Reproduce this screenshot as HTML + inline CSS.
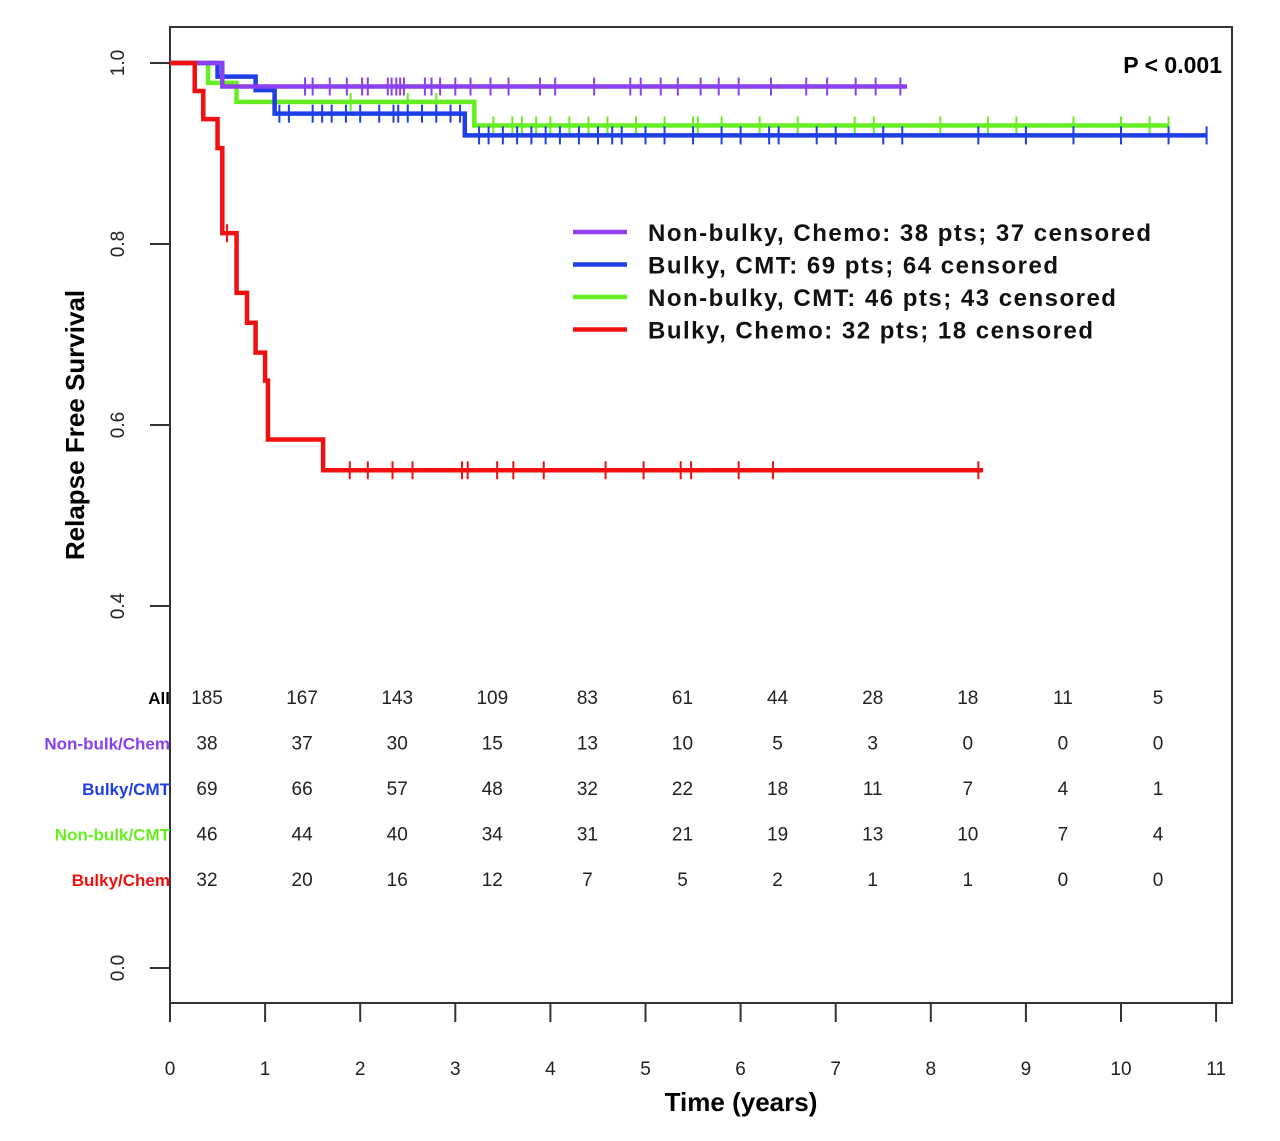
<!DOCTYPE html>
<html><head><meta charset="utf-8"><style>
body{margin:0;background:#fff;}
svg text{font-family:"Liberation Sans",Arial,sans-serif;}
</style></head><body>
<svg id="chart" width="1280" height="1136" xmlns="http://www.w3.org/2000/svg">
<g id="plot"></g>
</svg>
<script>
const xTicks=[0,1,2,3,4,5,6,7,8,9,10,11];
const yTicks=[0.0,0.4,0.6,0.8,1.0];
const seriesNames=["Non-bulky, Chemo: 38 pts; 37 censored","Bulky, CMT: 69 pts; 64 censored","Non-bulky, CMT: 46 pts; 43 censored","Bulky, Chemo: 32 pts; 18 censored"];
const seriesColors=["#8a3ff0","#1f3fe6","#66ee22","#f01010"];
const purpleTimes=[0,0.55,7.75];
const purpleSurv=[1.0,0.974,0.974];
const blueTimes=[0,0.5,0.9,1.1,3.1,10.9];
const blueSurv=[1.0,0.985,0.97,0.944,0.92,0.92];
const greenTimes=[0,0.4,0.7,3.2,10.5];
const greenSurv=[1.0,0.978,0.957,0.931,0.931];
const redTimes=[0,0.26,0.35,0.5,0.55,0.7,0.81,0.9,1.0,1.03,1.61,8.55];
const redSurv=[1.0,0.969,0.938,0.906,0.812,0.746,0.713,0.68,0.649,0.584,0.55,0.55];
const purpleCens=[1.42,1.5,1.68,1.86,2.02,2.08,2.29,2.33,2.38,2.42,2.46,2.68,2.75,2.84,3.0,3.16,3.37,3.56,3.89,4.05,4.46,4.84,4.95,5.16,5.34,5.58,5.77,5.98,6.32,6.69,6.91,7.21,7.42,7.68];
const blueCens=[1.15,1.25,1.5,1.6,1.7,1.85,2.0,2.2,2.35,2.4,2.5,2.65,2.8,2.95,3.05,3.25,3.35,3.5,3.65,3.8,3.95,4.1,4.3,4.5,4.65,4.75,5.0,5.2,5.5,5.8,6.0,6.3,6.4,6.8,7.0,7.5,7.7,8.5,9.0,9.5,10.0,10.5,10.9];
const greenCens=[1.9,2.5,2.8,3.4,3.6,3.7,3.85,4.0,4.2,4.4,4.6,4.9,5.2,5.5,5.55,5.8,6.2,6.6,7.2,7.4,8.1,8.6,8.9,9.5,10.0,10.3,10.5];
const redCens=[0.6,1.89,2.08,2.34,2.55,3.07,3.13,3.44,3.61,3.93,4.58,4.98,5.37,5.48,5.98,6.34,8.5];
const riskLabels=["All","Non-bulk/Chem","Bulky/CMT","Non-bulk/CMT","Bulky/Chem"];
const riskColors=["#000","#8a3ff0","#1f3fe6","#66ee22","#f01010"];
const riskAll=[185,167,143,109,83,61,44,28,18,11,5];
const riskNBChem=[38,37,30,15,13,10,5,3,0,0,0];
const riskBCMT=[69,66,57,48,32,22,18,11,7,4,1];
const riskNBCMT=[46,44,40,34,31,21,19,13,10,7,4];
const riskBChem=[32,20,16,12,7,5,2,1,1,0,0];

const NS="http://www.w3.org/2000/svg";
const g=document.getElementById('plot');
const X=t=>170+t*95.1;
const Y=s=>968-s*905;
function el(tag,attrs,parent){const e=document.createElementNS(NS,tag);for(const k in attrs)e.setAttribute(k,attrs[k]);(parent||g).appendChild(e);return e;}
function txt(s,attrs){const e=el('text',attrs);e.textContent=s;return e;}

let f=el('rect',{x:170,y:27,width:1062,height:976,fill:'none',stroke:'#333','stroke-width':2});


xTicks.forEach(t=>{
  let l=el('line',{x1:X(t),x2:X(t),y1:1003,y2:1022,stroke:'#333','stroke-width':2});
  
  
  let tx=txt(String(t),{x:X(t),y:1075,'font-size':19,'text-anchor':'middle',fill:'#222'});
  
  
});
yTicks.forEach(v=>{
  let l=el('line',{x1:150,x2:170,y1:Y(v),y2:Y(v),stroke:'#333','stroke-width':2});
  
  
  let tx=txt(v.toFixed(1),{x:0,y:0,'font-size':19,'text-anchor':'middle',fill:'#222',transform:`translate(124,${Y(v)}) rotate(-90)`});
  
  
});
let yt=txt('Relapse Free Survival',{x:0,y:0,'font-size':26,'font-weight':'bold','text-anchor':'middle',transform:'translate(84,425) rotate(-90)'});


let xt=txt('Time (years)',{x:741,y:1111,'font-size':26,'font-weight':'bold','text-anchor':'middle'});


let pv=txt('P < 0.001',{x:1222,y:73,'font-size':23,'font-weight':'bold','text-anchor':'end'});



const curves=[[greenTimes,greenSurv,greenCens,2],[blueTimes,blueSurv,blueCens,1],[purpleTimes,purpleSurv,purpleCens,0],[redTimes,redSurv,redCens,3]];
curves.forEach(([T,S,C,i])=>{
  let d=`M${X(T[0])},${Y(S[0])}`;
  for(let k=1;k<T.length;k++){d+=` H${X(T[k])} V${Y(S[k])}`;}
  let p=el('path',{d:d,fill:'none',stroke:seriesColors[i],'stroke-width':4.5});
  
  
  C.forEach(c=>{
    let s=S[0];for(let k=0;k<T.length;k++){if(T[k]<=c)s=S[k];}
    let m=el('line',{x1:X(c),x2:X(c),y1:Y(s)-9,y2:Y(s)+9,stroke:seriesColors[i],'stroke-width':2});
    
    
  });
});
seriesNames.forEach((n,i)=>{
  const yy=232+i*32.5;
  let l=el('line',{x1:573,x2:627,y1:yy,y2:yy,stroke:seriesColors[i],'stroke-width':4.5});
  
  
  let t=txt(n,{x:648,y:yy+9,'font-size':24,'font-weight':'bold',fill:'#111','letter-spacing':1.5});
  
  
});
const riskRows=[riskAll,riskNBChem,riskBCMT,riskNBCMT,riskBChem];
riskRows.forEach((row,r)=>{
  const yy=704+r*45.5;
  let lb=txt(riskLabels[r],{x:170,y:yy,'font-size':17,'font-weight':'bold','text-anchor':'end',fill:riskColors[r]});
  
  
  row.forEach((v,k)=>{
    let t=txt(String(v),{x:X(k)+37,y:yy,'font-size':19,'text-anchor':'middle',fill:'#222'});
    
    
  });
});
</script>
</body></html>
